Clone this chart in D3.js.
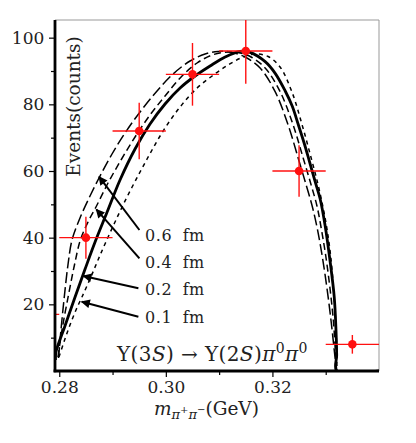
<!DOCTYPE html>
<html><head><meta charset="utf-8">
<script src="https://cdn.jsdelivr.net/npm/d3@7"></script>
<style>
html,body{margin:0;padding:0;background:#fff;}
svg text{font-family:"DejaVu Serif",serif;fill:#222;}
</style></head>
<body><svg id="c" width="416" height="443"></svg>
<script>
// ---- data ----
const xDomain = [0.2792, 0.340];
const yDomain = [0, 105.3];
const xMajorTicks = [0.28, 0.30, 0.32];
const xMinorTicks = [0.29, 0.31, 0.33];
const yMajorTicks = [20, 40, 60, 80, 100];
const yMinorTicks = [10, 30, 50, 70, 90];

const dataX = [0.275, 0.285, 0.295, 0.305, 0.315, 0.325, 0.335];
const dataY = [17, 40, 72, 89, 96, 60, 8];
const dataYErr = [4.1, 6.3, 8.5, 9.4, 9.8, 7.7, 2.8];
const dataXErr = 0.005;

// theory curves [m (GeV), events]
const curve02 = [[0.27929,3.3],[0.27938,5.7],[0.28107,13.5],[0.28295,22.1],[0.28483,30.5],[0.28670,38.6],[0.28896,47.6],[0.29140,57.3],[0.29422,66.6],[0.29703,74.1],[0.29985,80.1],[0.30267,84.9],[0.30548,88.5],[0.30830,91.5],[0.31112,94.2],[0.31394,95.9],[0.31582,95.6],[0.31864,92.8],[0.32052,89.3],[0.32240,84.0],[0.32371,79.5],[0.32488,73.8],[0.32595,68.4],[0.32689,63.2],[0.32802,56.8],[0.32896,51.6],[0.32990,43.5],[0.33084,32.7],[0.33160,22.2],[0.33193,12.3],[0.33206,4.8],[0.33209,0],[0.3400,0]];
const curve06 = [[0.27985,3.9],[0.28032,12.3],[0.28098,22.8],[0.28163,31.8],[0.28239,39.3],[0.28389,45.9],[0.28577,52.5],[0.28765,58.5],[0.28990,65.1],[0.29234,71.4],[0.29516,77.7],[0.29835,84.0],[0.30135,89.1],[0.30454,93.0],[0.30736,95.1],[0.30980,95.85],[0.31206,95.7],[0.31487,94.2],[0.31769,90.9],[0.32051,83.8],[0.32295,73.8],[0.32483,63.9],[0.32633,55.8],[0.32746,49.5],[0.32840,42.9],[0.32934,34.5],[0.33028,24.3],[0.33103,14.7],[0.33160,6.3],[0.33202,0]];
const curve04 = [[0.27976,4.2],[0.28051,12.3],[0.28173,22.8],[0.28285,31.8],[0.28396,39.3],[0.28539,44.7],[0.28689,49.2],[0.28915,56.4],[0.29159,63.3],[0.29422,70.2],[0.29703,76.8],[0.29985,82.5],[0.30304,88.5],[0.30586,92.4],[0.30868,94.8],[0.31168,95.7],[0.31394,95.4],[0.31600,94.2],[0.31864,90.9],[0.32145,83.8],[0.32389,73.8],[0.32577,63.9],[0.32727,55.8],[0.32836,49.5],[0.32915,42.9],[0.33001,34.5],[0.33084,24.3],[0.33146,14.7],[0.33180,6.3],[0.33205,0]];
const curve01 = [[0.27994,4.2],[0.28088,8.7],[0.28201,13.8],[0.28314,18.3],[0.28426,22.2],[0.28577,27.6],[0.28727,33.3],[0.28858,38.1],[0.29046,44.7],[0.29271,52.2],[0.29516,59.7],[0.29741,66.3],[0.29985,72.9],[0.30267,79.2],[0.30567,84.6],[0.30868,88.5],[0.31168,91.8],[0.31450,94.2],[0.31694,95.1],[0.31919,94.35],[0.32144,91.2],[0.32364,83.8],[0.32558,73.8],[0.32727,63.9],[0.32858,55.8],[0.32952,48.9],[0.33027,42.3],[0.33093,34.5],[0.33149,24.3],[0.33187,14.7],[0.33206,6.3],[0.33211,0]];

// annotation arrows: label, tip [m,y], tail [m,y]
const arrowLabels = ["0.6 fm", "0.4 fm", "0.2 fm", "0.1 fm"];
const arrowTips  = [[0.28746,58.3],[0.28695,48.5],[0.28451,28.5],[0.28421,20.8]];
const arrowTails = [[0.29504,42.3],[0.29504,33.8],[0.29485,24.8],[0.29485,16.3]];
const labelY = [40.8, 32.7, 24.6, 16.2];

// ---- layout ----
const svg = d3.select("#c");
const L = 55, T = 20, R = 379, B = 371;
const x = d3.scaleLinear().domain(xDomain).range([L, R]);
const y = d3.scaleLinear().domain(yDomain).range([B, T]);

const defs = svg.append("defs");
defs.append("clipPath").attr("id","clip")
  .append("rect").attr("x",L).attr("y",T).attr("width",R-L).attr("height",B-T);
defs.append("marker").attr("id","ah").attr("viewBox","0 0 10 10")
  .attr("refX",9).attr("refY",5).attr("markerWidth",6).attr("markerHeight",4.5)
  .attr("markerUnits","strokeWidth").attr("orient","auto")
  .append("path").attr("d","M0,0 L10,5 L0,10 Z").attr("fill","#000");

// frame
svg.append("line").attr("x1",L).attr("x2",R).attr("y1",T).attr("y2",T).attr("stroke","#999").attr("stroke-width",1);
svg.append("line").attr("x1",R).attr("x2",R).attr("y1",T).attr("y2",B).attr("stroke","#999").attr("stroke-width",1);

const plot = svg.append("g").attr("clip-path","url(#clip)");

const line = d3.line().x(d=>x(d[0])).y(d=>y(d[1])).curve(d3.curveCatmullRom.alpha(0.5));
plot.append("path").attr("d",line(curve06)).attr("fill","none").attr("stroke","#000").attr("stroke-width",1.5).attr("stroke-dasharray","11,4");
plot.append("path").attr("d",line(curve04)).attr("fill","none").attr("stroke","#000").attr("stroke-width",1.5).attr("stroke-dasharray","7,4");
plot.append("path").attr("d",line(curve01)).attr("fill","none").attr("stroke","#000").attr("stroke-width",1.5).attr("stroke-dasharray","4,4");
plot.append("path").attr("d",line(curve02)).attr("fill","none").attr("stroke","#000").attr("stroke-width",2.8);

// data points
const red = "#ff1010";
dataX.forEach((mx,i)=>{
  plot.append("line").attr("x1",x(mx-dataXErr)).attr("x2",x(mx+dataXErr)).attr("y1",y(dataY[i])).attr("y2",y(dataY[i])).attr("stroke",red).attr("stroke-width",1.4);
  plot.append("line").attr("x1",x(mx)).attr("x2",x(mx)).attr("y1",y(dataY[i]-dataYErr[i])).attr("y2",y(dataY[i]+dataYErr[i])).attr("stroke",red).attr("stroke-width",1.4);
  plot.append("circle").attr("cx",x(mx)).attr("cy",y(dataY[i])).attr("r",4.3).attr("fill",red);
});

// arrows + labels
arrowLabels.forEach((lab,i)=>{
  svg.append("line").attr("x1",x(arrowTails[i][0])).attr("y1",y(arrowTails[i][1]))
    .attr("x2",x(arrowTips[i][0])).attr("y2",y(arrowTips[i][1]))
    .attr("stroke","#000").attr("stroke-width",2).attr("marker-end","url(#ah)");
  svg.append("text").attr("x",x(0.29611)).attr("y",y(labelY[i])+5.5)
    .attr("font-size",16).attr("word-spacing",5).attr("letter-spacing",0.5).text(lab);
});

// process label
const eq = svg.append("text").attr("x",117).attr("y",361).attr("font-size",20).attr("letter-spacing",0.4);
eq.append("tspan").text("Υ(3");
eq.append("tspan").attr("font-style","italic").text("S");
eq.append("tspan").text(") → Υ(2");
eq.append("tspan").attr("font-style","italic").text("S");
eq.append("tspan").text(")");
eq.append("tspan").attr("font-style","italic").text("π");
eq.append("tspan").attr("font-size",14).attr("dy",-8).text("0");
eq.append("tspan").attr("font-style","italic").attr("dy",8).text("π");
eq.append("tspan").attr("font-size",14).attr("dy",-8).text("0");

// axes
const xAxis = d3.axisBottom(x).tickValues(xMajorTicks).tickSize(6).tickFormat(d3.format(".2f"));
const gx = svg.append("g").attr("transform",`translate(0,${B})`).call(xAxis);
const gxm = svg.append("g").attr("transform",`translate(0,${B})`).call(d3.axisBottom(x).tickValues(xMinorTicks).tickSize(4).tickFormat(""));
const yAxis = d3.axisLeft(y).tickValues(yMajorTicks).tickSize(6);
const gy = svg.append("g").attr("transform",`translate(${L},0)`).call(yAxis);
const gym = svg.append("g").attr("transform",`translate(${L},0)`).call(d3.axisLeft(y).tickValues(yMinorTicks).tickSize(4).tickFormat(""));
[gx,gxm,gy,gym].forEach(g=>{
  g.select(".domain").remove();
  g.selectAll(".tick line").attr("stroke","#000").attr("stroke-width",1.2);
  g.selectAll("text").attr("font-family","DejaVu Serif").attr("font-size",17).attr("fill","#222");
});
gx.selectAll("text").attr("dy","0.78em");
gy.selectAll("text").attr("dx","-0.1em");
svg.append("line").attr("x1",L).attr("x2",L).attr("y1",T).attr("y2",B+1.3).attr("stroke","#000").attr("stroke-width",2.8);
svg.append("line").attr("x1",L-1.4).attr("x2",R).attr("y1",B).attr("y2",B).attr("stroke","#000").attr("stroke-width",2.8);

// axis titles
const xt = svg.append("text").attr("x",154).attr("y",415).attr("font-size",18.5);
xt.append("tspan").attr("font-style","italic").text("m");
xt.append("tspan").attr("font-style","italic").attr("font-size",13).attr("dy",4).text("π");
xt.append("tspan").attr("font-size",10).attr("dy",-6).text("+");
xt.append("tspan").attr("font-style","italic").attr("font-size",13).attr("dy",6).text("π");
xt.append("tspan").attr("font-size",10).attr("dy",-6).text("−");
xt.append("tspan").attr("dy",2).text("(GeV)");

svg.append("text").attr("transform","translate(80,106.5) rotate(-90)")
  .attr("text-anchor","middle").attr("font-size",18.5).text("Events(counts)");
</script></body></html>
